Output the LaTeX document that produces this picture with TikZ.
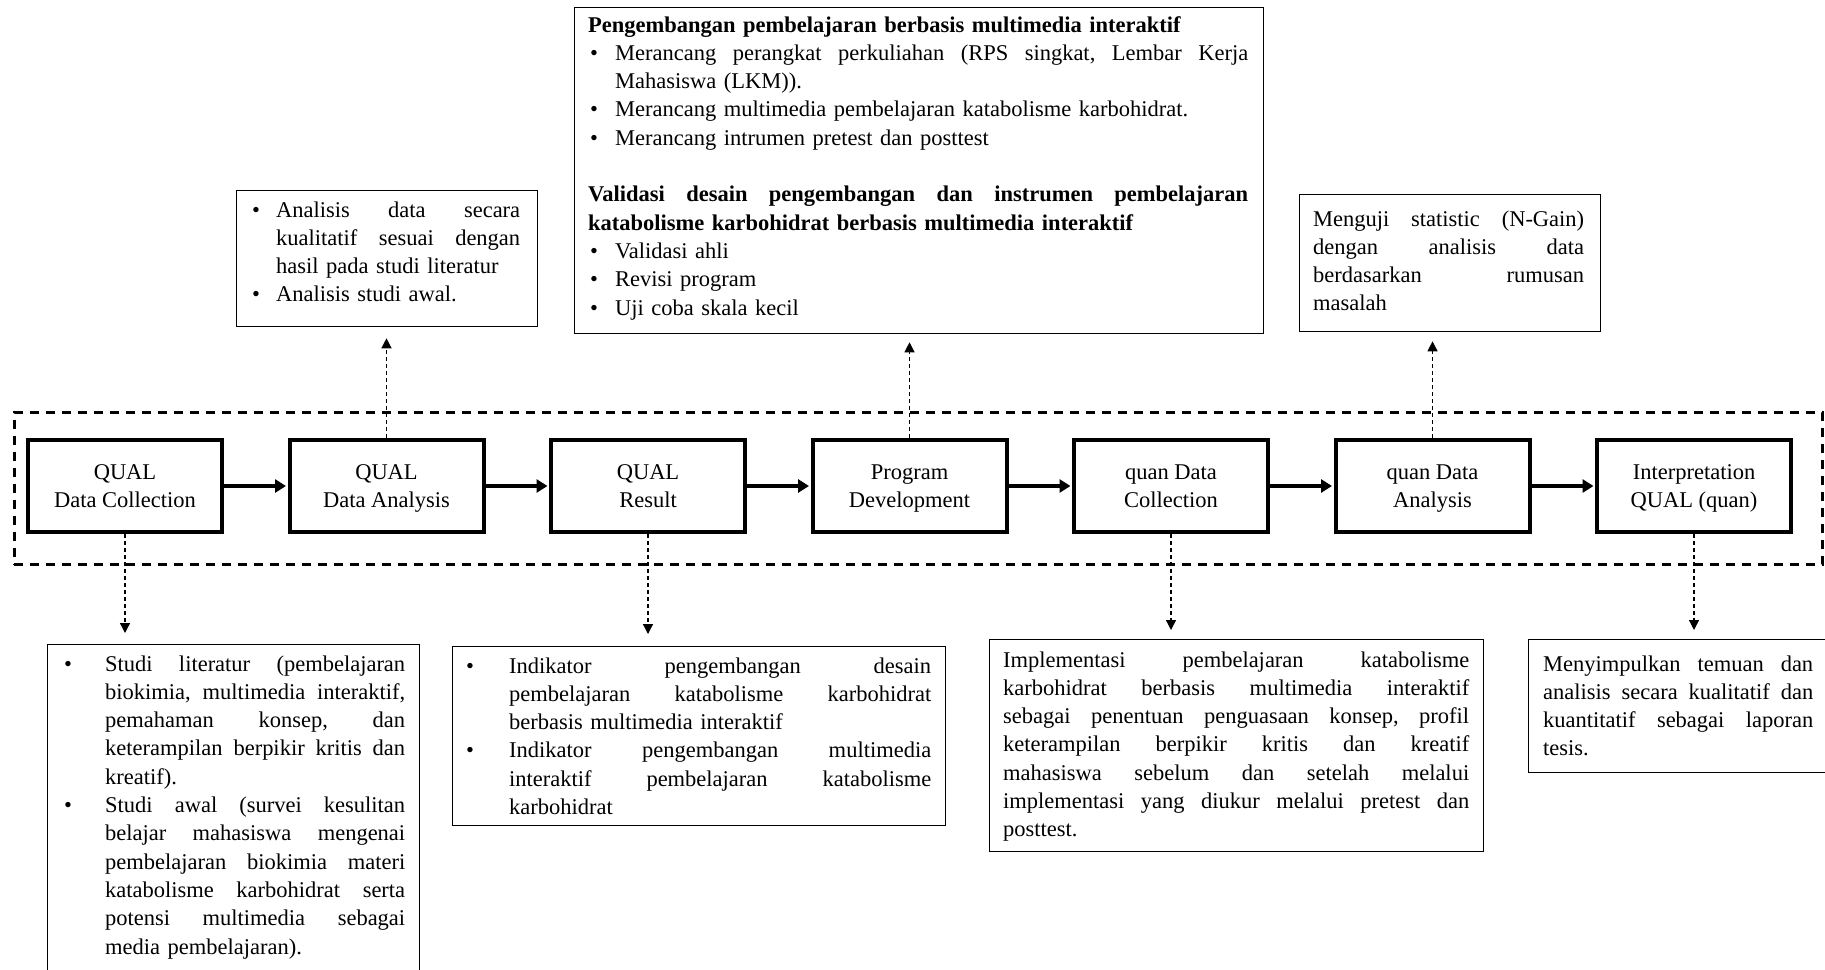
\documentclass[tikz,border=0pt]{standalone}
\usepackage{fontspec}
\setmainfont{Liberation Serif}
\usetikzlibrary{arrows.meta,calc}
\newcommand{\fsz}{\fontsize{22.5pt}{28.3pt}\selectfont}
\newcommand{\JL}[2]{\leavevmode\hbox to #1{#2}}
\newcommand{\LL}[2]{\makebox[#1][l]{#2}}
\newcommand{\BU}[1]{\makebox[#1][l]{\hspace*{2pt}•}}
\begin{document}
\begin{tikzpicture}[x=1pt,y=-1pt,
  stage/.style={draw, line width=4pt, minimum width=194pt, minimum height=92pt, inner sep=0pt, align=center, font=\fsz, text depth=0pt},
  note/.style={draw, line width=1.3pt, inner sep=0pt, anchor=north west},
  txt/.style={inner sep=0pt, anchor=base west, align=left, font=\fsz},
  flow/.style={line width=4pt, -{Triangle[length=11pt,width=13pt]}, shorten >=1.5pt},
  link/.style={line width=1.3pt, dash pattern=on 4pt off 3pt, -{Triangle[length=10pt,width=10pt]}},
  frame/.style={draw, line width=3pt, dash pattern=on 9pt off 7pt, inner sep=0pt, anchor=north west}
]
\useasboundingbox (0,0) rectangle (1825,969);
\clip (0,0) rectangle (1825,969);
\fill[white] (0,0) rectangle (1825,969);

% group frame
\node[frame, minimum width=1808.5pt, minimum height=152pt] (grp) at (12.5,411) {};

% stages
\node[stage] (b1) at (125,486) {QUAL\\Data Collection};
\node[stage] (b2) at (386.5,486) {QUAL\\Data Analysis};
\node[stage] (b3) at (648,486) {QUAL\\Result};
\node[stage] (b4) at (909.5,486) {Program\\Development};
\node[stage] (b5) at (1171,486) {quan Data\\Collection};
\node[stage] (b6) at (1432.5,486) {quan Data\\Analysis};
\node[stage] (b7) at (1694,486) {Interpretation\\QUAL (quan)};

\draw[flow] (b1.east) -- (b2.west);
\draw[flow] (b2.east) -- (b3.west);
\draw[flow] (b3.east) -- (b4.west);
\draw[flow] (b4.east) -- (b5.west);
\draw[flow] (b5.east) -- (b6.west);
\draw[flow] (b6.east) -- (b7.west);

% note boxes
\node[note, minimum width=301pt, minimum height=136pt] (tl) at (236,190) {};
\node[note, minimum width=689pt, minimum height=326pt] (tc) at (574,7) {};
\node[note, minimum width=301pt, minimum height=137pt] (tr) at (1299,194) {};
\node[note, minimum width=372pt, minimum height=400pt] (bl) at (47,644) {};
\node[note, minimum width=493pt, minimum height=179pt] (bm) at (452,646) {};
\node[note, minimum width=494pt, minimum height=212pt] (bq) at (989,639) {};
\node[note, minimum width=330pt, minimum height=133pt] (br) at (1528,639) {};

% texts
\node[txt, text width=270pt] (tlt) at (250,217) {%
\BU{26pt}\JL{244pt}{Analisis\hfill data\hfill secara}\\
\hspace*{26pt}\JL{244pt}{kualitatif\hfill sesuai\hfill dengan}\\
\hspace*{26pt}\LL{244pt}{hasil pada studi literatur}\\
\BU{26pt}\LL{244pt}{Analisis studi awal.}};

\node[txt, text width=660pt] (tct) at (588,32) {%
\LL{660pt}{\textbf{Pengembangan pembelajaran berbasis multimedia interaktif}}\\
\BU{27pt}\JL{633pt}{Merancang\hfill perangkat\hfill perkuliahan\hfill (RPS\hfill singkat,\hfill Lembar\hfill Kerja}\\
\hspace*{27pt}\LL{633pt}{Mahasiswa (LKM)).}\\
\BU{27pt}\LL{633pt}{Merancang multimedia pembelajaran katabolisme karbohidrat.}\\
\BU{27pt}\LL{633pt}{Merancang intrumen pretest dan posttest}\\
\mbox{}\\
\JL{660pt}{\bfseries Validasi\hfill desain\hfill pengembangan\hfill dan\hfill instrumen\hfill pembelajaran}\\
\LL{660pt}{\textbf{katabolisme karbohidrat berbasis multimedia interaktif}}\\
\BU{27pt}\LL{633pt}{Validasi ahli}\\
\BU{27pt}\LL{633pt}{Revisi program}\\
\BU{27pt}\LL{633pt}{Uji coba skala kecil}};

\node[txt, text width=271pt] (trt) at (1313,226) {%
\JL{271pt}{Menguji\hfill statistic\hfill (N-Gain)}\\
\JL{271pt}{dengan\hfill analisis\hfill data}\\
\JL{271pt}{berdasarkan\hfill rumusan}\\
\LL{271pt}{masalah}};

\node[txt, text width=343pt] (blt) at (62,671) {%
\BU{43pt}\JL{300pt}{Studi\hfill literatur\hfill (pembelajaran}\\
\hspace*{43pt}\JL{300pt}{biokimia,\hfill multimedia\hfill interaktif,}\\
\hspace*{43pt}\JL{300pt}{pemahaman\hfill konsep,\hfill dan}\\
\hspace*{43pt}\JL{300pt}{keterampilan\hfill berpikir\hfill kritis\hfill dan}\\
\hspace*{43pt}\LL{300pt}{kreatif).}\\
\BU{43pt}\JL{300pt}{Studi\hfill awal\hfill (survei\hfill kesulitan}\\
\hspace*{43pt}\JL{300pt}{belajar\hfill mahasiswa\hfill mengenai}\\
\hspace*{43pt}\JL{300pt}{pembelajaran\hfill biokimia\hfill materi}\\
\hspace*{43pt}\JL{300pt}{katabolisme\hfill karbohidrat\hfill serta}\\
\hspace*{43pt}\JL{300pt}{potensi\hfill multimedia\hfill sebagai}\\
\hspace*{43pt}\LL{300pt}{media pembelajaran).}};

\node[txt, text width=467pt] (bmt) at (464,673) {%
\BU{45pt}\JL{422pt}{Indikator\hfill pengembangan\hfill desain}\\
\hspace*{45pt}\JL{422pt}{pembelajaran\hfill katabolisme\hfill karbohidrat}\\
\hspace*{45pt}\LL{422pt}{berbasis multimedia interaktif}\\
\BU{45pt}\JL{422pt}{Indikator\hfill pengembangan\hfill multimedia}\\
\hspace*{45pt}\JL{422pt}{interaktif\hfill pembelajaran\hfill katabolisme}\\
\hspace*{45pt}\LL{422pt}{karbohidrat}};

\node[txt, text width=466pt] (bqt) at (1003,667) {%
\JL{466pt}{Implementasi\hfill pembelajaran\hfill katabolisme}\\
\JL{466pt}{karbohidrat\hfill berbasis\hfill multimedia\hfill interaktif}\\
\JL{466pt}{sebagai\hfill penentuan\hfill penguasaan\hfill konsep,\hfill profil}\\
\JL{466pt}{keterampilan\hfill berpikir\hfill kritis\hfill dan\hfill kreatif}\\
\JL{466pt}{mahasiswa\hfill sebelum\hfill dan\hfill setelah\hfill melalui}\\
\JL{466pt}{implementasi\hfill yang\hfill diukur\hfill melalui\hfill pretest\hfill dan}\\
\LL{466pt}{posttest.}};

\node[txt, text width=270pt] (brt) at (1543,671) {%
\JL{270pt}{Menyimpulkan\hfill temuan\hfill dan}\\
\JL{270pt}{analisis\hfill secara\hfill kualitatif\hfill dan}\\
\JL{270pt}{kuantitatif\hfill sebagai\hfill laporan}\\
\LL{270pt}{tesis.}};

% dashed links
\draw[link, shorten >=11pt] (b2.north) -- (b2.north |- tl.south);
\draw[link, shorten >=8pt] (b4.north) -- (b4.north |- tc.south);
\draw[link, shorten >=9pt] (b6.north) -- (b6.north |- tr.south);
\draw[link, shorten >=11pt] (b1.south) -- (b1.south |- bl.north);
\draw[link, shorten >=12pt] (b3.south) -- (b3.south |- bm.north);
\draw[link, shorten >=9pt] (b5.south) -- (b5.south |- bq.north);
\draw[link, shorten >=9pt] (b7.south) -- (b7.south |- br.north);
\end{tikzpicture}
\end{document}
